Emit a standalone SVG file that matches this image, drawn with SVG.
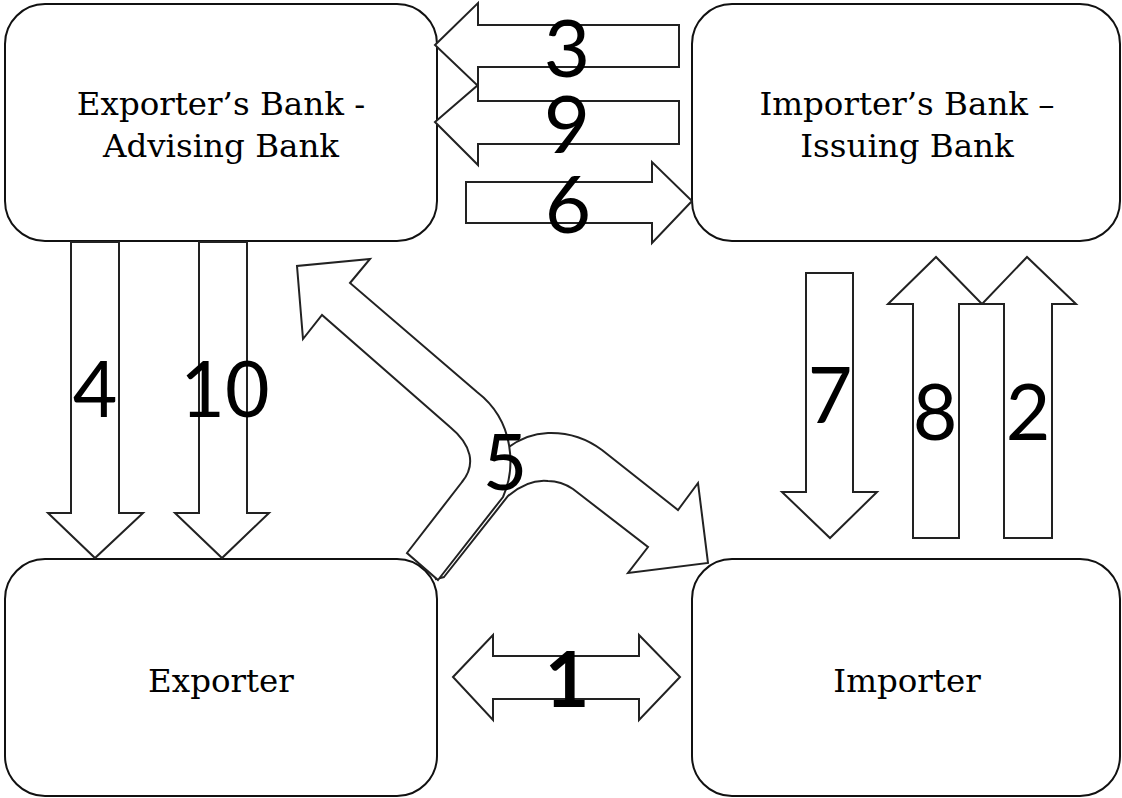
<svg xmlns="http://www.w3.org/2000/svg" width="1122" height="798" viewBox="0 0 1122 798">
  <style>
    .box { fill: #ffffff; stroke: #111111; stroke-width: 2; }
    .lbl { font-family: "DejaVu Serif", "Liberation Serif", serif; font-size: 32.5px; fill: #000000; text-anchor: middle; }
    .arr { fill: #ffffff; stroke: #222222; stroke-width: 2; stroke-linejoin: miter; }
    .num { font-family: Lato, "Open Sans", "Liberation Sans", sans-serif; font-size: 77px; fill: #000000; text-anchor: middle; }
    .big { font-size: 80px; }
  </style>

  <!-- Parties -->
  <g id="exporters-bank">
    <rect class="box" x="5" y="4" width="432" height="237" rx="40" ry="40"/>
    <text class="lbl" x="221" y="115">Exporter’s Bank -</text>
    <text class="lbl" x="221" y="157">Advising Bank</text>
  </g>
  <g id="importers-bank">
    <rect class="box" x="692" y="4" width="428" height="237" rx="40" ry="40"/>
    <text class="lbl" x="907" y="115">Importer’s Bank –</text>
    <text class="lbl" x="907" y="157">Issuing Bank</text>
  </g>
  <g id="exporter">
    <rect class="box" x="5" y="559" width="432" height="237" rx="40" ry="40"/>
    <text class="lbl" x="221" y="692">Exporter</text>
  </g>
  <g id="importer">
    <rect class="box" x="692" y="559" width="428" height="237" rx="40" ry="40"/>
    <text class="lbl" x="907" y="692">Importer</text>
  </g>

  <!-- Numbered flow arrows -->
  <g id="connectors">
    <!-- 3: issuing bank to advising bank -->
    <path class="arr" d="M679,25 L478,25 L478,3 L435,45 L478,86 L478,67 L679,67 Z"/>
    <!-- 9: issuing bank to advising bank -->
    <path class="arr" d="M679,101 L478,101 L478,85 L435,122 L478,165 L478,144 L679,144 Z"/>
    <!-- 6: advising bank to issuing bank -->
    <path class="arr" d="M466,182 L652,182 L652,162 L692,201 L652,243 L652,223 L466,223 Z"/>

    <!-- 4 and 10: advising bank to exporter -->
    <path class="arr" d="M71,242 L119,242 L119,513 L143,513 L95,558 L48,513 L71,513 Z"/>
    <path class="arr" d="M199,242 L247,242 L247,513 L269,513 L222,558 L175,513 L199,513 Z"/>

    <!-- 7: issuing bank to importer -->
    <path class="arr" d="M806,273 L853,273 L853,492 L877,492 L830,538 L782,492 L806,492 Z"/>
    <!-- 8 and 2: importer to issuing bank -->
    <path class="arr" d="M913,538 L959,538 L959,304 L982,304 L936,257 L888,304 L913,304 Z"/>
    <path class="arr" d="M1004,538 L1052,538 L1052,304 L1076,304 L1027,257 L982,304 L1004,304 Z"/>

    <!-- 5: exporter ships goods / documents in two directions -->
    <path class="arr" d="M444,577 L508,496 Q528,479 548,481 Q561,481 573,489 L648,547 L628,573 L708,563 L698,483 L678,510 L602,450 Q578,432 548,433 Q524,434 505,450 L425,548 L436,579 Z"/>
    <path class="arr" d="M438,580 L503,497 C515,470 516,422 477,392 L350,283 L370,259 L297,266 L303,339 L322,315 L450,427 C472,445 476,465 462,482 L407,553 Z"/>

    <!-- 1: exporter and importer agree terms -->
    <path class="arr" d="M453,677 L493,635 L493,656 L639,656 L639,635 L680,677 L639,720 L639,699 L493,699 L493,720 Z"/>
  </g>

  <!-- Step numbers -->
  <g id="step-numbers">
    <text class="num big" x="567" y="77">3</text>
    <text class="num big" x="567" y="153">9</text>
    <text class="num big" x="568" y="233">6</text>
    <text class="num" x="95" y="417">4</text>
    <text class="num" x="225" y="417">10</text>
    <text class="num" x="830" y="423">7</text>
    <text class="num" x="935" y="440">8</text>
    <text class="num" x="1028" y="440">2</text>
    <text class="num" x="505" y="490">5</text>
    <text class="num" x="567" y="707" font-weight="bold">1</text>
  </g>
</svg>
